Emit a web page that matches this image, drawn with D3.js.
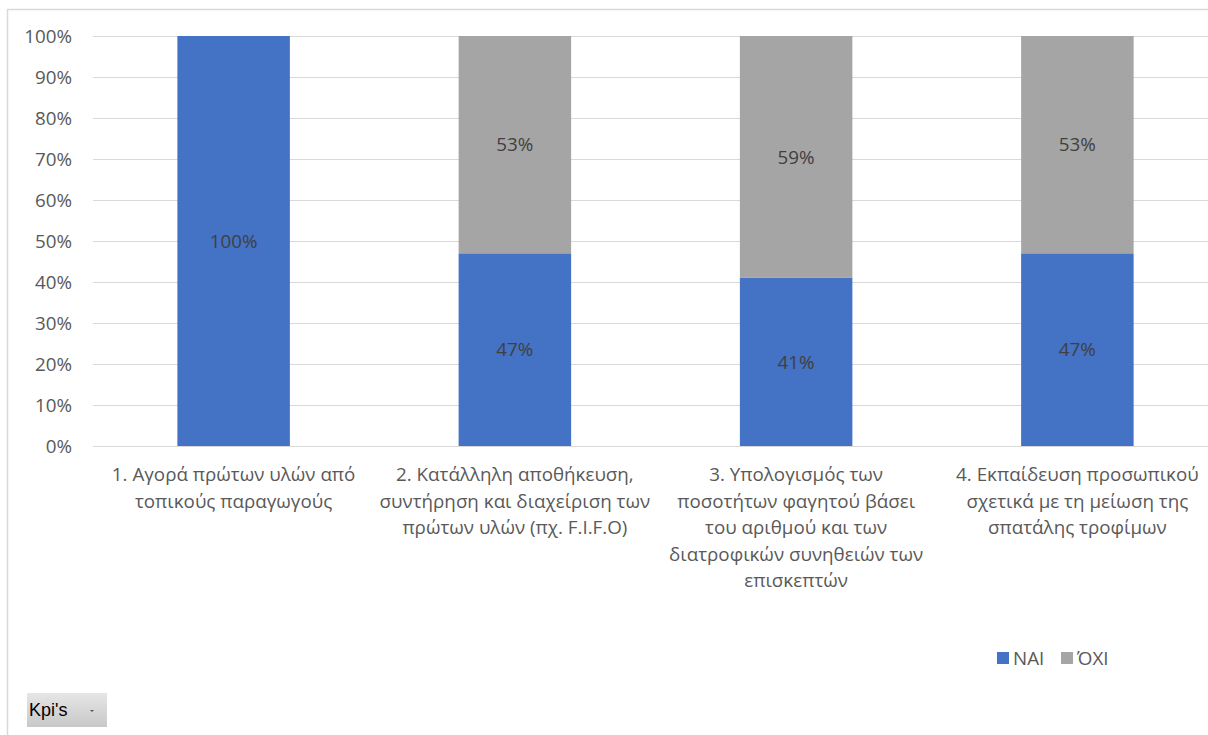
<!DOCTYPE html>
<html>
<head>
<meta charset="utf-8">
<script src="https://cdn.jsdelivr.net/npm/d3@7"></script>
<style>
  html, body { margin: 0; padding: 0; background: #fff; }
  svg { display: block; font-family: "Open Sans", "Noto Sans", sans-serif; }
</style>
</head>
<body>
<svg id="chart" width="1208" height="735"></svg>
<script>
// Categories (KPI statements) and the share of each answer
const categories = [
  ["1. Αγορά πρώτων υλών από", "τοπικούς παραγωγούς"],
  ["2. Κατάλληλη αποθήκευση,", "συντήρηση και διαχείριση των", "πρώτων υλών (πχ. F.I.F.O)"],
  ["3. Υπολογισμός των", "ποσοτήτων φαγητού βάσει", "του αριθμού και των", "διατροφικών συνηθειών των", "επισκεπτών"],
  ["4. Εκπαίδευση προσωπικού", "σχετικά με τη μείωση της", "σπατάλης τροφίμων"]
];
const yesValues = [1.00, 0.47, 0.41, 0.47];
const noValues  = [0.00, 0.53, 0.59, 0.53];
const seriesNames = ["ΝΑΙ", "ΌΧΙ"];
const seriesColors = ["#4472c4", "#a5a5a5"];
const yTicks = [0, 0.1, 0.2, 0.3, 0.4, 0.5, 0.6, 0.7, 0.8, 0.9, 1.0];

const FS = 18.8;
const svg = d3.select("#chart");

// Outer chart frame (extends past the right and bottom edge)
svg.append("rect")
  .attr("x", 7.5).attr("y", 9.5)
  .attr("width", 1300).attr("height", 800)
  .attr("fill", "none").attr("stroke", "#d9d9d9").attr("stroke-width", 1.5);

const plot = { left: 93, right: 1218, top: 36, bottom: 446 };

const x = d3.scaleBand()
  .domain(d3.range(categories.length))
  .range([plot.left, plot.right])
  .paddingInner(0.6).paddingOuter(0.3);

const y = d3.scaleLinear().domain([0, 1]).range([plot.bottom, plot.top]);

// Gridlines
svg.append("g")
  .selectAll("line")
  .data(yTicks)
  .join("line")
  .attr("x1", plot.left).attr("x2", 1208)
  .attr("y1", d => Math.round(y(d)) + 0.5).attr("y2", d => Math.round(y(d)) + 0.5)
  .attr("stroke", "#d9d9d9").attr("stroke-width", 1);

// Y axis labels
const yAxis = d3.axisLeft(y).tickValues(yTicks).tickFormat(d3.format(".0%")).tickSize(0).tickPadding(0);
const yg = svg.append("g").attr("transform", `translate(${plot.left - 21},0)`).call(yAxis);
yg.select(".domain").remove();
yg.selectAll("text").attr("fill", "#595959").attr("font-size", FS).attr("font-family", "\"Open Sans\", sans-serif");

// Stacked data
const rows = categories.map((c, i) => ({ i, yes: yesValues[i], no: noValues[i] }));
const stack = d3.stack().keys(["yes", "no"]);
const layers = stack(rows);

const barG = svg.append("g");
layers.forEach((layer, li) => {
  barG.selectAll(null)
    .data(layer)
    .join("rect")
    .attr("x", d => x(d.data.i))
    .attr("width", x.bandwidth())
    .attr("y", d => y(d[1]))
    .attr("height", d => y(d[0]) - y(d[1]))
    .attr("fill", seriesColors[li]);
  barG.selectAll(null)
    .data(layer.filter(d => d[1] - d[0] > 0))
    .join("text")
    .attr("x", d => x(d.data.i) + x.bandwidth() / 2)
    .attr("y", d => y((d[0] + d[1]) / 2))
    .attr("dy", "0.35em")
    .attr("text-anchor", "middle")
    .attr("font-size", FS)
    .attr("fill", "#404040")
    .text(d => d3.format(".0%")(d[1] - d[0]));
});

// Category labels
const catG = svg.append("g");
categories.forEach((lines, i) => {
  const t = catG.append("text")
    .attr("x", x(i) + x.bandwidth() / 2)
    .attr("y", 481)
    .attr("text-anchor", "middle")
    .attr("font-size", FS)
    .attr("fill", "#595959");
  lines.forEach((ln, k) => {
    t.append("tspan")
      .attr("x", x(i) + x.bandwidth() / 2)
      .attr("dy", k === 0 ? 0 : 26.5)
      .text(ln);
  });
});

// Legend
const legend = svg.append("g").attr("transform", "translate(997,652)");
const legendX = [0, 64];
seriesNames.forEach((name, i) => {
  const g = legend.append("g").attr("transform", `translate(${legendX[i]},0)`);
  g.append("rect").attr("width", 12).attr("height", 12).attr("fill", seriesColors[i]);
  g.append("text").attr("x", 16).attr("y", 6).attr("dy", "0.35em")
    .attr("font-size", FS).attr("fill", "#595959").text(name);
});

// Field button
const defs = svg.append("defs");
const grad = defs.append("linearGradient").attr("id", "btnGrad").attr("x1", 0).attr("y1", 0).attr("x2", 0).attr("y2", 1);
grad.append("stop").attr("offset", "0%").attr("stop-color", "#e6e6e6");
grad.append("stop").attr("offset", "100%").attr("stop-color", "#c8c8c8");
const btn = svg.append("g").attr("transform", "translate(27,693)");
btn.append("rect").attr("width", 80).attr("height", 34).attr("fill", "url(#btnGrad)");
btn.append("text").attr("x", 2).attr("y", 17).attr("dy", "0.35em")
  .attr("font-family", "\"Liberation Sans\", sans-serif")
  .attr("font-size", 18).attr("fill", "#000").text("Kpi's");
btn.append("path").attr("d", "M63,17 l4,0 l-2,2 z").attr("fill", "#555");
</script>
</body>
</html>
